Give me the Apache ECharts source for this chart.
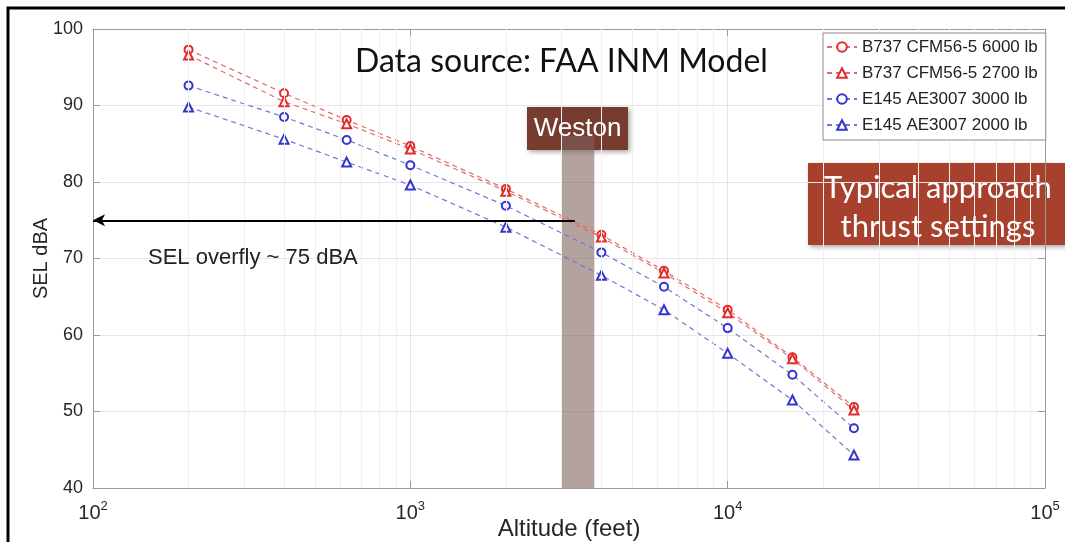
<!DOCTYPE html>
<html lang="en">
  <head>
    <meta charset="UTF-8" />
    <title>SEL vs altitude</title>
    <script src="https://cdn.jsdelivr.net/npm/echarts@6/dist/echarts.min.js"></script>
    <style>
      html, body { margin: 0; padding: 0; background: #fff; overflow: hidden; }
      .box { width: 1065px; height: 542px; }
    </style>
  </head>
  <body>
    <div class="box"></div>
    <script>
      // altitude (feet) of each INM point
      var altitudes = [200, 400, 630, 1000, 2000, 4000, 6300, 10000, 16000, 25000];
      // SEL dBA per aircraft / thrust
      var b737_6000 = [97.3, 91.6, 88.1, 84.7, 79.1, 73.1, 68.4, 63.3, 57.1, 50.6];
      var b737_2700 = [96.6, 90.5, 87.6, 84.3, 78.8, 72.8, 68.1, 62.9, 56.9, 50.2];
      var e145_3000 = [92.6, 88.5, 85.5, 82.2, 76.9, 70.8, 66.3, 60.9, 54.8, 47.8];
      var e145_2000 = [89.8, 85.6, 82.6, 79.6, 74.1, 67.8, 63.3, 57.6, 51.5, 44.3];
      var seriesNames = [
        "B737 CFM56-5 6000 lb",
        "B737 CFM56-5 2700 lb",
        "E145 AE3007 3000 lb",
        "E145 AE3007 2000 lb",
      ];
      // minor log grid positions
      var minorTicks = [200, 300, 400, 500, 600, 700, 800, 900,
        2000, 3000, 4000, 5000, 6000, 7000, 8000, 9000,
        20000, 30000, 40000, 50000, 60000, 70000, 80000, 90000];
      // Weston altitude band
      var westonBand = [3000, 3800];
      var overflyLevel = 75;

      var box = document.getElementsByClassName("box")[0];
      var chart = echarts.init(box);

      function pairs(vals) {
        var out = [];
        for (var i = 0; i < altitudes.length; i++) {
          out.push([altitudes[i], vals[i]]);
        }
        return out;
      }

      function lineSeries(name, vals, lineColor, markColor, symbol) {
        return {
          name: name,
          type: "line",
          data: pairs(vals),
          symbol: symbol,
          symbolSize: symbol == "emptyTriangle" ? 9 : 8,
          showSymbol: true,
          z: 3,
          lineStyle: { color: lineColor, width: 1.2, type: [5, 4] },
          itemStyle: { color: markColor, borderColor: markColor, borderWidth: 1.3 },
          emphasis: { disabled: true },
        };
      }

      var minorLines = [];
      for (var i = 0; i < minorTicks.length; i++) {
        minorLines.push({ xAxis: minorTicks[i] });
      }

      var labelFont = "Liberation Sans";

      var option = {
        animation: false,
        grid: { left: 93, right: 20, top: 29, bottom: 54, outerBoundsMode: "none", containLabel: false },
        legend: {
          data: seriesNames,
          orient: "vertical",
          left: 823,
          top: 33,
          z: 20,
          itemWidth: 30,
          itemHeight: 12,
          itemGap: 8,
          padding: [5, 8, 6, 3],
          backgroundColor: "#fff",
          borderColor: "#8a8a8a",
          borderWidth: 1,
          textStyle: { fontFamily: labelFont, fontSize: 17, lineHeight: 18, color: "#222" },
        },
        xAxis: [
          {
            type: "log",
            logBase: 10,
            min: 100,
            max: 100000,
            name: "Altitude (feet)",
            nameLocation: "middle",
            nameGap: 29,
            nameMoveOverlap: false,
            nameTextStyle: { fontFamily: labelFont, fontSize: 24, color: "#262626" },
            axisLine: { lineStyle: { color: "#9a9a9a" } },
            axisTick: { inside: true, length: 7, lineStyle: { color: "#9a9a9a" } },
            splitLine: { show: true, lineStyle: { color: "#e4e4e4" } },
            axisLabel: {
              margin: 12,
              formatter: function (v) {
                var e = Math.round(Math.log(v) / Math.LN10);
                return "{b|10}{s|" + e + "}";
              },
              rich: {
                b: { fontFamily: labelFont, fontSize: 20, color: "#262626", lineHeight: 26 },
                s: { fontFamily: labelFont, fontSize: 13, color: "#262626", verticalAlign: "top", lineHeight: 13 },
              },
            },
          },
          {
            type: "log",
            logBase: 10,
            min: 100,
            max: 100000,
            position: "top",
            axisLine: { show: true, lineStyle: { color: "#9a9a9a" } },
            axisTick: { show: true, inside: true, length: 7, lineStyle: { color: "#9a9a9a" } },
            axisLabel: { show: false },
            splitLine: { show: false },
          },
        ],
        yAxis: [
          {
            type: "value",
            min: 40,
            max: 100,
            interval: 10,
            name: "SEL dBA",
            nameLocation: "middle",
            nameRotate: 90,
            nameGap: 42,
            nameMoveOverlap: false,
            nameTextStyle: { fontFamily: labelFont, fontSize: 20, color: "#262626" },
            axisLine: { show: true, lineStyle: { color: "#9a9a9a" } },
            axisTick: { show: true, inside: true, length: 7, lineStyle: { color: "#9a9a9a" } },
            splitLine: { show: true, lineStyle: { color: "#e6e6e6" } },
            axisLabel: { fontFamily: labelFont, fontSize: 18, color: "#262626", margin: 10 },
          },
          {
            type: "value",
            min: 40,
            max: 100,
            interval: 10,
            position: "right",
            axisLine: { show: true, lineStyle: { color: "#9a9a9a" } },
            axisTick: { show: true, inside: true, length: 7, lineStyle: { color: "#9a9a9a" } },
            axisLabel: { show: false },
            splitLine: { show: false },
          },
        ],
        series: [
          {
            name: "minor-grid",
            type: "line",
            data: [],
            z: 1,
            silent: true,
            markLine: {
              silent: true,
              symbol: ["none", "none"],
              label: { show: false },
              lineStyle: { color: "#efefef", width: 1, type: "solid" },
              data: minorLines,
            },
          },
          lineSeries(seriesNames[0], b737_6000, "#e56a6a", "#e02c2c", "emptyCircle"),
          lineSeries(seriesNames[1], b737_2700, "#e56a6a", "#e02c2c", "emptyTriangle"),
          lineSeries(seriesNames[2], e145_3000, "#7474d4", "#3434cc", "emptyCircle"),
          lineSeries(seriesNames[3], e145_2000, "#7474d4", "#3434cc", "emptyTriangle"),
          {
            name: "annotations",
            type: "line",
            data: [],
            z: 5,
            silent: true,
            markArea: {
              silent: true,
              itemStyle: { color: "rgba(125,95,90,0.58)" },
              data: [[{ coord: [westonBand[0], 40] }, { coord: [westonBand[1], 86] }]],
            },
            markLine: {
              silent: true,
              symbol: ["none", "arrow"],
              symbolSize: [9, 12],
              label: { show: false },
              lineStyle: { color: "#000", width: 2, type: "solid" },
              data: [[{ coord: [3300, overflyLevel] }, { coord: [100, overflyLevel] }]],
            },
          },
        ],
        graphic: [
          {
            type: "rect",
            z: 100,
            shape: { x: 8, y: 8, width: 1080, height: 560 },
            style: { fill: "none", stroke: "#000", lineWidth: 3 },
            silent: true,
          },
          {
            type: "text",
            left: 355,
            top: 46,
            z: 50,
            style: { text: "Data source: FAA INM Model", font: "32px Lato", fill: "#111" },
          },
          {
            type: "text",
            left: 148,
            top: 247,
            z: 50,
            style: { text: "SEL overfly ~ 75 dBA", font: "22px 'Liberation Sans'", fill: "#222" },
          },
          {
            type: "group",
            left: 527,
            top: 107,
            z: 60,
            children: [
              {
                type: "rect",
                shape: { x: 0, y: 0, width: 101, height: 43 },
                style: {
                  fill: "#773c30",
                  shadowBlur: 5,
                  shadowOffsetX: 2,
                  shadowOffsetY: 2,
                  shadowColor: "rgba(0,0,0,0.35)",
                },
              },
              {
                type: "text",
                x: 50.5,
                y: 22,
                style: {
                  text: "Weston",
                  font: "26px 'Liberation Sans'",
                  fill: "#fff",
                  align: "center",
                  verticalAlign: "middle",
                },
              },
            ],
          },
          {
            type: "group",
            left: 808,
            top: 163,
            z: 60,
            children: [
              {
                type: "rect",
                shape: { x: 0, y: 0, width: 260, height: 82 },
                style: {
                  fill: "#a8402e",
                  shadowBlur: 5,
                  shadowOffsetX: 2,
                  shadowOffsetY: 2,
                  shadowColor: "rgba(0,0,0,0.35)",
                },
              },
              {
                type: "text",
                x: 130,
                y: 44,
                style: {
                  text: "Typical approach\nthrust settings",
                  font: "31px Lato",
                  lineHeight: 39,
                  fill: "#fff",
                  align: "center",
                  verticalAlign: "middle",
                },
              },
            ],
          },
        ],
      };

      chart.setOption(option);
    </script>
  </body>
</html>
